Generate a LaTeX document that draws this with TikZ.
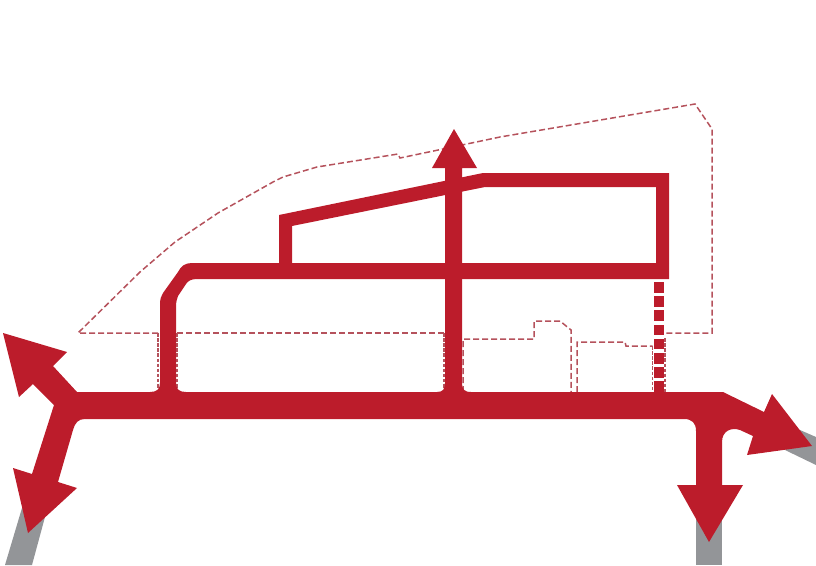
\documentclass[tikz,border=0pt]{standalone}
\definecolor{routered}{HTML}{BC1C2B}
\definecolor{roadgray}{HTML}{939598}
\definecolor{plotline}{HTML}{B5525C}
\tikzset{
  route/.style={fill=routered},
  road/.style={fill=roadgray},
  plot/.style={draw=plotline,line width=1.5pt,dash pattern=on 6pt off 3pt},
  plotfine/.style={draw=plotline,line width=1.3pt,dash pattern=on 3.5pt off 1.6pt}
}
\begin{document}
\begin{tikzpicture}[x=1pt,y=-1pt]
  \useasboundingbox (0,0) rectangle (816,565);

  % roads
  \fill[road] (22,508) -- (5,565) -- (32,565) -- (45,517) -- cycle;
  \fill[road] (696,500) rectangle (722,565);
  \fill[road] (800,430) -- (816,437) -- (816,465) -- (785,450) -- cycle;

  % plot boundary
  \draw[plot] (158,333) -- (78,333) -- (140,272) -- (175,242) -- (218,213) -- (273,182) -- (283,177) -- (317,167) -- (398,154) -- (400,158) -- (443,149) -- (500,137) -- (695,104) -- (712,129) -- (712,333) -- (664,333);
  \draw[plot] (177,333) -- (444,333);
  \draw[plotfine] (158,333) -- (158,388);
  \draw[plotfine] (177,333) -- (177,388);
  \draw[plotfine] (444,333) -- (444,388);
  \draw[plot] (463,392) -- (463,339) -- (534,339) -- (534,321) -- (560,321) -- (571,330) -- (571,392);
  \draw[plot] (577,392) -- (577,342) -- (625,342) -- (626,346) -- (652.5,346);
  \draw[plotfine] (652.5,346) -- (652.5,392);
  \draw[plotfine] (665,338) -- (665,392);

  % routes
  \fill[route] (77,392) -- (53,366) -- (67,352) -- (3,333) -- (19,397) -- (33,384) -- (54,405) -- (32,474) -- (13,468) -- (28,533) -- (77,488) -- (58,482) -- (73,430) .. controls (75,423) and (78,419) .. (85,419) -- (684,419) .. controls (692,419) and (696,423) .. (696,431) -- (696,485) -- (677,485) -- (709,542) -- (743,485) -- (722,485) -- (722,442) .. controls (722,431) and (731,427) .. (740,430) -- (753,436) -- (747,455) -- (812,446) -- (772,394) -- (764,412) -- (723,392) -- cycle;
  \fill[route] (150,392) .. controls (157,392) and (160,389) .. (160,383) -- (160,305) .. controls (160,299) and (161,296) .. (163,293) -- (178,272) .. controls (181,266) and (185,263) .. (192,263) -- (669,263) -- (669,279) -- (197,279) .. controls (191,279) and (188,281) .. (186,284) -- (178,296) .. controls (177,299) and (176,302) .. (176,306) -- (176,383) .. controls (176,389) and (179,392) .. (186,392) -- cycle;
  \fill[route] (279,263) -- (279,215) -- (483,173) -- (669,173) -- (669,263) -- (656,263) -- (656,187) -- (485,187) -- (292,226) -- (292,263) -- cycle;
  \fill[route] (437,392) .. controls (443,392) and (445,389) .. (445,383) -- (445,168) -- (432,168) -- (454,129) -- (477,168) -- (462,168) -- (462,383) .. controls (462,389) and (464,392) .. (471,392) -- cycle;

  \foreach \y in {282,296.2,...,382}
    \fill[route] (654,\y) rectangle (664,\y+10.5);
\end{tikzpicture}
\end{document}
